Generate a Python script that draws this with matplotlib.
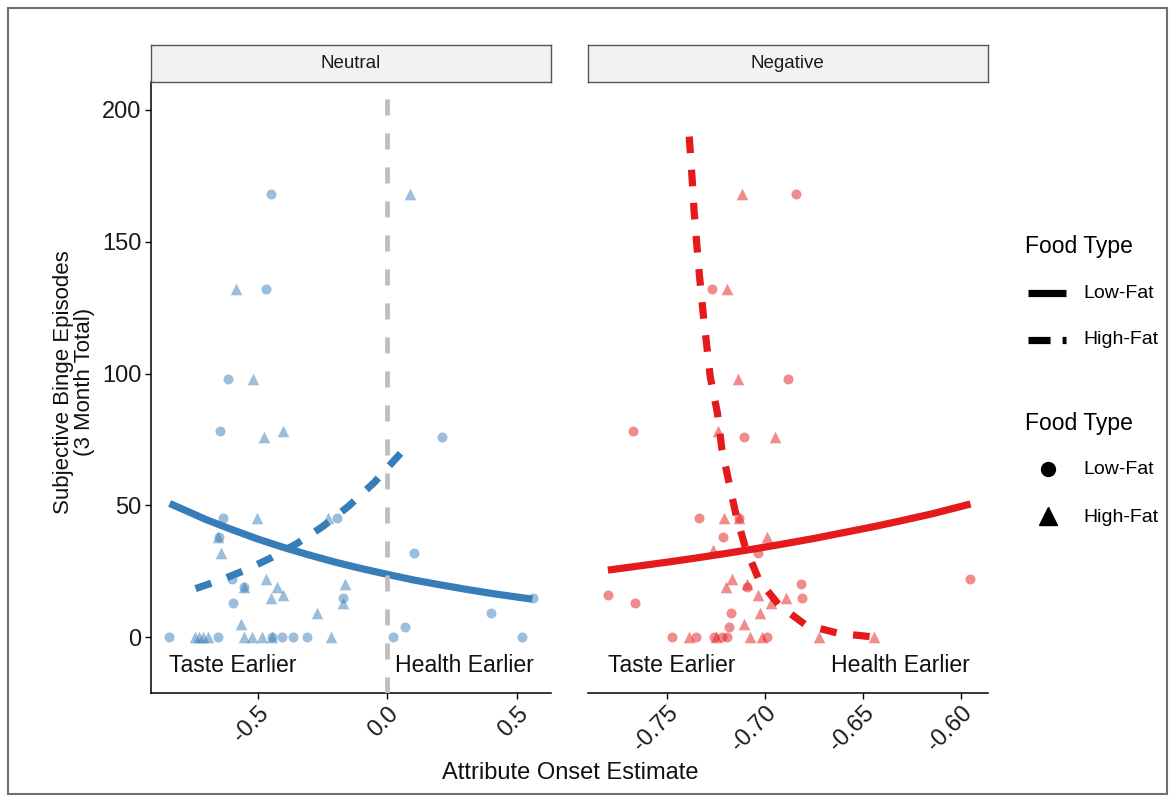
import matplotlib.pyplot as plt
from matplotlib.lines import Line2D
from matplotlib.patches import Rectangle

plt.rcParams['font.family'] = ['Liberation Sans', 'DejaVu Sans']

BLUE = '#377EB8'
RED = '#E41A1C'

# ---- Neutral panel: raw points ----
neu_low_x = [-0.450, -0.467, -0.614, -0.646, 0.210, -0.636, -0.193, -0.648, 0.104, -0.601,
             -0.552, -0.597, -0.172, 0.399, 0.068, 0.564,
             -0.842, -0.653, -0.444, -0.405, -0.365, -0.311, 0.021, 0.519]
neu_low_y = [168, 132, 98, 78, 76, 45, 45, 38, 32, 22,
             19, 13, 15, 9, 4, 15,
             0, 0, 0, 0, 0, 0, 0, 0]
neu_high_x = [0.087, -0.585, -0.517, -0.475, -0.401, -0.502, -0.228, -0.655, -0.640, -0.552,
              -0.470, -0.425, -0.450, -0.404, -0.163, -0.172, -0.270, -0.566,
              -0.742, -0.726, -0.710, -0.691, -0.552, -0.524, -0.483, -0.444, -0.217]
neu_high_y = [168, 132, 98, 76, 78, 45, 45, 38, 32, 19,
              22, 19, 15, 16, 20, 13, 9, 5,
              0, 0, 0, 0, 0, 0, 0, 0, 0]

# ---- Negative panel: raw points ----
neg_low_x = [-0.6839, -0.7271, -0.6881, -0.7673, -0.7105, -0.7334, -0.7131, -0.7215, -0.7032, -0.7092,
             -0.6817, -0.6812, -0.7800, -0.7661, -0.5952, -0.7173, -0.7182,
             -0.7473, -0.7351, -0.7261, -0.7219, -0.7190, -0.6986]
neg_low_y = [168, 132, 98, 78, 76, 45, 45, 38, 32, 19,
             20, 15, 16, 13, 22, 9, 4,
             0, 0, 0, 0, 0, 0]
neg_high_x = [-0.7117, -0.7190, -0.7134, -0.7236, -0.6949, -0.7210, -0.7131, -0.6986, -0.7263, -0.7169,
              -0.7198, -0.7092, -0.7032, -0.6893, -0.6969, -0.7025, -0.7105,
              -0.7388, -0.7246, -0.7076, -0.7015, -0.6724, -0.6444]
neg_high_y = [168, 132, 98, 78, 76, 45, 45, 38, 33, 22,
              19, 20, 16, 15, 13, 9, 5,
              0, 0, 0, 0, 0, 0]

# ---- fitted curves ----
neu_fit_low_x = [-0.84, -0.7, -0.6, -0.5, -0.4, -0.3, -0.2, -0.1, 0.0, 0.1, 0.2, 0.3, 0.4, 0.5, 0.56]
neu_fit_low_y = [50.7, 44.6, 40.8, 37.2, 34.0, 31.1, 28.4, 26.0, 23.8, 21.7, 19.9, 18.2, 16.6, 15.2, 14.4]
neu_fit_high_x = [-0.74, -0.65, -0.55, -0.45, -0.35, -0.25, -0.15, -0.05, 0.065]
neu_fit_high_y = [18.4, 21.4, 25.3, 30.0, 35.4, 41.9, 49.6, 58.7, 71.2]

neg_fit_low_x = [-0.78, -0.765, -0.75, -0.735, -0.72, -0.705, -0.69, -0.675, -0.66, -0.645,
                 -0.63, -0.615, -0.595]
neg_fit_low_y = [25.4, 26.9, 28.4, 30.0, 31.7, 33.5, 35.4, 37.4, 39.6, 41.8,
                 44.2, 46.7, 50.5]
neg_fit_high_x = [-0.7385, -0.7371, -0.7360, -0.7346, -0.7331, -0.7314, -0.7295, -0.7278,
                  -0.7241, -0.7219, -0.7185, -0.7148, -0.7100, -0.7029, -0.6927, -0.6791,
                  -0.6622, -0.6452]
neg_fit_high_y = [189.9, 174.7, 161.4, 148.5, 135.7, 122.8, 110.2, 98.8,
                  84.9, 71.6, 59.6, 46.9, 34.3, 21.6, 12.1, 4.6,
                  1.4, 0.1]

W, H = 1175, 801
fig = plt.figure(figsize=(W / 100, H / 100), dpi=100)


def box(x0, y0, x1, y1):
    return [x0 / W, 1 - y1 / H, (x1 - x0) / W, (y1 - y0) / H]


def fx(px):
    return px / W


def fy(py):
    return 1 - py / H


YLIM = (-21.1, 210.6)

panels = [
    dict(rect=(151, 82, 551, 692.7), xlim=(-0.912, 0.632), title='Neutral', color=BLUE,
         pts=(neu_low_x, neu_low_y, neu_high_x, neu_high_y),
         fits=(neu_fit_low_x, neu_fit_low_y, neu_fit_high_x, neu_fit_high_y),
         ticks=[-0.5, 0.0, 0.5], labels=['-0.5', '0.0', '0.5'], left=True),
    dict(rect=(587.5, 82, 988, 692.7), xlim=(-0.7904, -0.5861), title='Negative', color=RED,
         pts=(neg_low_x, neg_low_y, neg_high_x, neg_high_y),
         fits=(neg_fit_low_x, neg_fit_low_y, neg_fit_high_x, neg_fit_high_y),
         ticks=[-0.75, -0.70, -0.65, -0.60], labels=['-0.75', '-0.70', '-0.65', '-0.60'], left=False),
]

for p in panels:
    x0, y0, x1, y1 = p['rect']
    ax = fig.add_axes(box(x0, y0, x1, y1))
    lx, ly, hx, hy = p['pts']
    ax.scatter(lx, ly, s=52, marker='o', color=p['color'], alpha=0.5, linewidths=0, zorder=2)
    ax.scatter(hx, hy, s=70, marker='^', color=p['color'], alpha=0.5, linewidths=0, zorder=2)
    flx, fly, fhx, fhy = p['fits']
    ax.plot(flx, fly, color=p['color'], lw=5.2, solid_capstyle='butt', solid_joinstyle='round', zorder=3)
    ax.plot(fhx, fhy, color=p['color'], lw=5.2, dashes=(2.3, 2.3), dash_capstyle='butt', zorder=3)

    ax.set_xlim(*p['xlim'])
    ax.set_ylim(*YLIM)
    ax.text(min(lx + hx), -10.6, 'Taste Earlier', ha='left', va='center', fontsize=16.6, color='#111111')
    ax.text(max(lx + hx), -10.6, 'Health Earlier', ha='right', va='center', fontsize=16.6, color='#111111')

    for side in ['top', 'right']:
        ax.spines[side].set_visible(False)
    ax.spines['bottom'].set_linewidth(1.1)
    ax.spines['left'].set_linewidth(1.1)
    ax.set_xticks(p['ticks'])
    ax.set_xticklabels(p['labels'], rotation=45, ha='right', va='top', rotation_mode='anchor')
    ax.tick_params(axis='x', labelsize=17, length=4, width=1, pad=3, labelcolor='#1a1a1a')
    if p['left']:
        ax.set_yticks([0, 50, 100, 150, 200])
        ax.tick_params(axis='y', labelsize=17, length=4, width=1, pad=3, labelcolor='#1a1a1a')
        ax.plot([0, 0], list(YLIM), color='#BEBEBE', lw=3.4, dashes=(3.4, 3.8), dash_capstyle='butt', zorder=4)
    else:
        ax.spines['left'].set_visible(False)
        ax.set_yticks([])

    # facet strip
    st = fig.add_axes(box(x0, 45, x1, 82))
    st.set_facecolor('#F2F2F2')
    st.set_xticks([])
    st.set_yticks([])
    for sp in st.spines.values():
        sp.set_color('#555555')
        sp.set_linewidth(1.0)
    st.text(0.5, 0.5, p['title'], ha='center', va='center', fontsize=13.5, color='#1a1a1a',
            transform=st.transAxes)

# axis titles
fig.text(fx(74), fy(382), 'Subjective Binge Episodes\n(3 Month Total)', rotation=90,
         ha='center', va='center', fontsize=16, linespacing=1.0, color='#111111')
fig.text(fx(570), fy(773), 'Attribute Onset Estimate', ha='center', va='center',
         fontsize=17, color='#111111')

# legends (drawn by hand)
fig.text(fx(1025), fy(247), 'Food Type', ha='left', va='center', fontsize=16.5)
fig.add_artist(Line2D([fx(1028), fx(1066)], [fy(293)] * 2, transform=fig.transFigure,
                      color='black', lw=5.2, solid_capstyle='butt'))
fig.add_artist(Line2D([fx(1028), fx(1066)], [fy(340)] * 2, transform=fig.transFigure,
                      color='black', lw=5.2, dashes=(3.05, 1.67), dash_capstyle='butt'))
fig.text(fx(1083), fy(293), 'Low-Fat', ha='left', va='center', fontsize=14)
fig.text(fx(1083), fy(340), 'High-Fat', ha='left', va='center', fontsize=14)

fig.text(fx(1025), fy(424), 'Food Type', ha='left', va='center', fontsize=16.5)
fig.add_artist(Line2D([fx(1048)], [fy(469)], transform=fig.transFigure, marker='o',
                      markersize=10, color='black', linestyle='none'))
fig.add_artist(Line2D([fx(1048)], [fy(516)], transform=fig.transFigure, marker='^',
                      markersize=12.5, color='black', linestyle='none'))
fig.text(fx(1083), fy(469), 'Low-Fat', ha='left', va='center', fontsize=14)
fig.text(fx(1083), fy(517), 'High-Fat', ha='left', va='center', fontsize=14)

# outer frame
fig.add_artist(Rectangle((fx(8), fy(794)), fx(1167) - fx(8), fy(8) - fy(794),
                         transform=fig.transFigure, fill=False, edgecolor='#707070', lw=1.5))

fig.savefig('out.png', dpi=100)
